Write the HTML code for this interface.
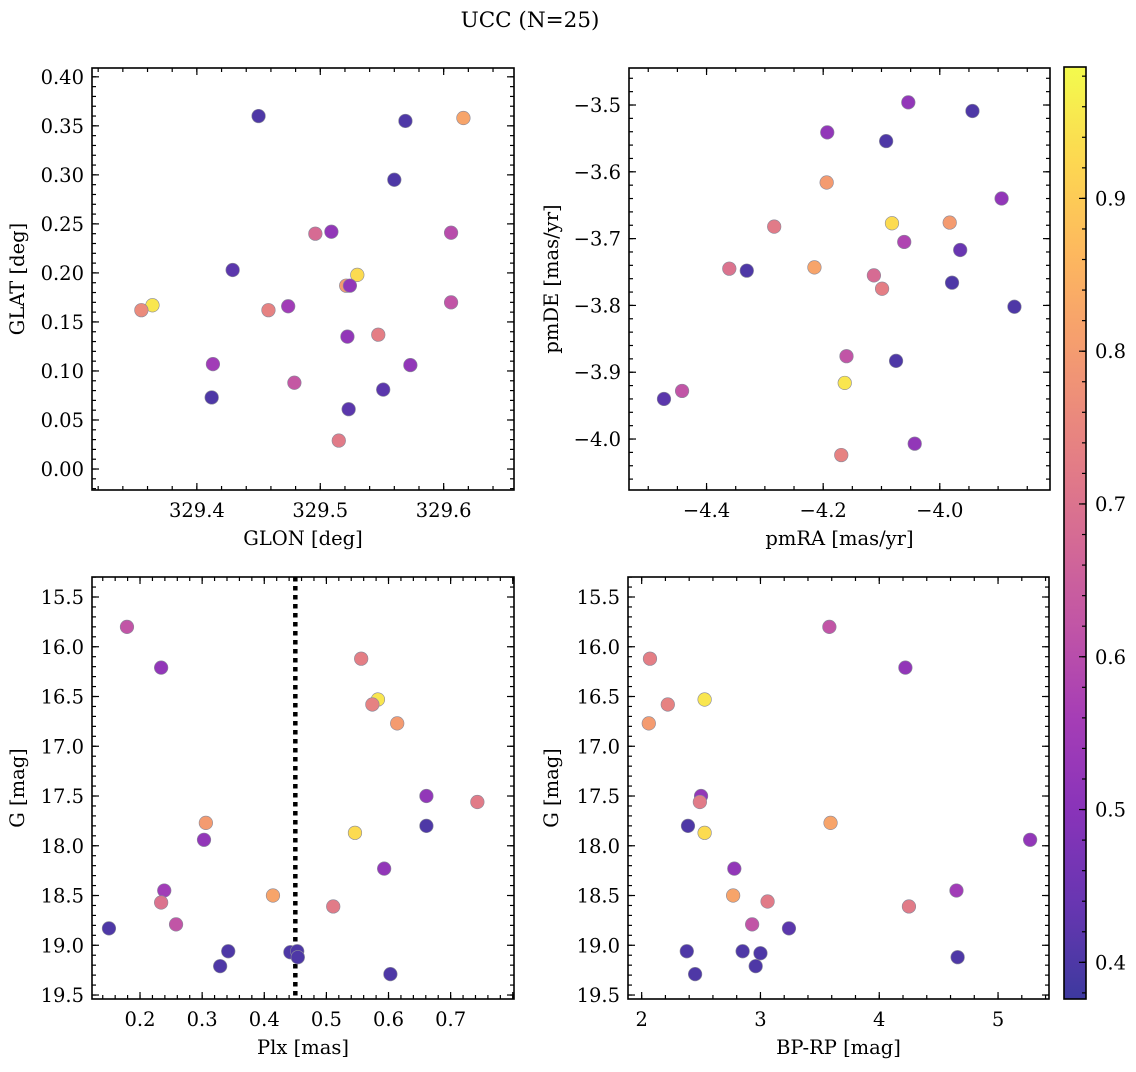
<!DOCTYPE html>
<html><head><meta charset="utf-8"><style>
html,body{margin:0;padding:0;background:#fff;}
svg text{font-family:"DejaVu Serif","Liberation Serif",serif;fill:#000;}
</style></head>
<body>
<svg id="fig" width="1136" height="1067" xmlns="http://www.w3.org/2000/svg">
<text x="530" y="27" font-size="21.5" text-anchor="middle">UCC (N=25)</text>
</svg>
<script>
// Panel 1: GLON / GLAT
const glon = [329.450,329.569,329.616,329.560,329.509,329.496,329.606,329.429,329.530,329.521,329.524,329.364,329.355,329.458,329.474,329.606,329.522,329.547,329.413,329.573,329.479,329.551,329.412,329.523,329.515];
const glat = [0.360,0.355,0.358,0.295,0.242,0.240,0.241,0.203,0.198,0.187,0.187,0.167,0.162,0.162,0.166,0.170,0.135,0.137,0.107,0.106,0.088,0.081,0.073,0.061,0.029];
const probA = [0.40,0.40,0.82,0.40,0.52,0.68,0.60,0.42,0.93,0.80,0.52,0.95,0.76,0.74,0.55,0.62,0.52,0.73,0.55,0.52,0.63,0.42,0.40,0.42,0.72];
// Panel 2: pmRA / pmDE
const pmra = [-4.054,-3.944,-4.193,-4.092,-4.194,-3.894,-4.082,-3.983,-4.284,-4.061,-3.965,-4.361,-4.331,-4.215,-4.113,-4.099,-3.979,-3.872,-4.160,-4.075,-4.163,-4.473,-4.442,-4.043,-4.169];
const pmde = [-3.496,-3.509,-3.541,-3.554,-3.616,-3.640,-3.677,-3.676,-3.682,-3.705,-3.717,-3.745,-3.748,-3.743,-3.755,-3.775,-3.766,-3.802,-3.876,-3.883,-3.916,-3.940,-3.928,-4.007,-4.024];
const probB = [0.52,0.40,0.52,0.40,0.80,0.52,0.93,0.80,0.72,0.58,0.44,0.70,0.40,0.82,0.68,0.73,0.40,0.40,0.62,0.40,0.95,0.42,0.62,0.52,0.74];
// Panel 3: Plx / G
const plx = [0.179,0.234,0.556,0.583,0.574,0.614,0.661,0.743,0.306,0.661,0.546,0.303,0.593,0.239,0.414,0.234,0.511,0.258,0.150,0.342,0.442,0.453,0.454,0.329,0.603];
const gmagC = [15.80,16.21,16.12,16.53,16.58,16.77,17.50,17.56,17.77,17.80,17.87,17.94,18.23,18.45,18.50,18.57,18.61,18.79,18.83,19.06,19.07,19.06,19.12,19.21,19.29];
const probC = [0.62,0.52,0.73,0.95,0.74,0.80,0.52,0.72,0.80,0.40,0.93,0.52,0.52,0.55,0.82,0.70,0.72,0.62,0.40,0.40,0.40,0.40,0.40,0.40,0.40];
// Panel 4: BP-RP / G
const bprp = [3.58,4.22,2.07,2.53,2.22,2.06,2.50,2.49,3.59,2.39,2.53,5.27,2.78,4.65,2.77,3.06,4.25,2.93,3.24,2.38,2.85,3.00,4.66,2.96,2.45];
const gmagD = [15.80,16.21,16.12,16.53,16.58,16.77,17.50,17.56,17.77,17.80,17.87,17.94,18.23,18.45,18.50,18.56,18.61,18.79,18.83,19.06,19.06,19.08,19.12,19.21,19.29];
const probD = [0.62,0.52,0.73,0.95,0.74,0.80,0.52,0.72,0.82,0.40,0.93,0.52,0.52,0.55,0.82,0.72,0.72,0.62,0.42,0.40,0.40,0.40,0.40,0.40,0.40];
const cbTicks = [0.4,0.5,0.6,0.7,0.8,0.9];
const plxCut = 0.45;

const NS = "http://www.w3.org/2000/svg";
const svg = document.getElementById('fig');
const FS = 19.5;
const VMIN = 0.376, VMAX = 0.986;
const plasma = ["#0d0887","#41049d","#6a00a8","#8f0da4","#b12a90","#cc4778","#e16462","#f2844b","#fca636","#fcce25","#f0f921"];
function hex(h){return [parseInt(h.substr(1,2),16),parseInt(h.substr(3,2),16),parseInt(h.substr(5,2),16)];}
function cmap(v){
  let t=(v-VMIN)/(VMAX-VMIN); t=Math.max(0,Math.min(1,t));
  const f=t*10, i=Math.min(9,Math.floor(f)), r=f-i;
  const a=hex(plasma[i]), b=hex(plasma[i+1]);
  const c=a.map((x,k)=>Math.round((x+(b[k]-x)*r)*0.8+255*0.2));
  return `rgb(${c[0]},${c[1]},${c[2]})`;
}
function mk(tag, attrs, parent){
  const e=document.createElementNS(NS,tag);
  for(const k in attrs) e.setAttribute(k,attrs[k]);
  (parent||svg).appendChild(e); return e;
}
function fmt(v,d){const s=v.toFixed(d);return s.replace('-','\u2212');}

function panel(o){
  const g=mk('g',{});
  
  
  const sx=v=>o.x0+(v-o.xmin)/(o.xmax-o.xmin)*(o.x1-o.x0);
  const sy=o.invert ? (v=>o.y0+(v-o.ymin)/(o.ymax-o.ymin)*(o.y1-o.y0)) : (v=>o.y1-(v-o.ymin)/(o.ymax-o.ymin)*(o.y1-o.y0));
  const eps=1e-9;
  const tg=mk('g',{stroke:'#000','stroke-width':1.2},g);
  function xt(step,len){
    for(let v=Math.ceil(o.xmin/step-eps)*step; v<=o.xmax+eps; v+=step){
      const x=sx(v);
      mk('line',{x1:x,x2:x,y1:o.y1,y2:o.y1-len},tg);
      mk('line',{x1:x,x2:x,y1:o.y0,y2:o.y0+len},tg);
    }
  }
  function yt(step,len){
    for(let v=Math.ceil(o.ymin/step-eps)*step; v<=o.ymax+eps; v+=step){
      const y=sy(v);
      mk('line',{x1:o.x0,x2:o.x0+len,y1:y,y2:y},tg);
      mk('line',{x1:o.x1,x2:o.x1-len,y1:y,y2:y},tg);
    }
  }
  xt(o.xminor,4); xt(o.xmajor,7); yt(o.yminor,4); yt(o.ymajor,7);
  o.xticks.forEach(v=>{
    const t=mk('text',{x:sx(v),y:o.y1+27,'font-size':FS,'text-anchor':'middle'},g);
    
    
    t.textContent=fmt(v,o.xd);
  });
  o.yticks.forEach(v=>{
    const t=mk('text',{x:o.x0-8,y:sy(v)+7,'font-size':FS,'text-anchor':'end'},g);
    
    
    t.textContent=fmt(v,o.yd);
  });
  const xl=mk('text',{x:(o.x0+o.x1)/2,y:o.y1+55,'font-size':FS,'text-anchor':'middle'},g);
  
  
  xl.textContent=o.xlabel;
  const ly=(o.y0+o.y1)/2;
  const yl=mk('text',{x:o.ylx,y:ly,'font-size':FS,'text-anchor':'middle',transform:`rotate(-90 ${o.ylx} ${ly})`},g);
  
  
  yl.textContent=o.ylabel;
  if(o.vline!==undefined){
    const l=mk('line',{x1:sx(o.vline),x2:sx(o.vline),y1:o.y0,y2:o.y1,stroke:'#000','stroke-width':4.5,'stroke-dasharray':'4.5,4.5'},g);
    
    
  }
  const pg=mk('g',{},g);
  o.xs.forEach((v,i)=>{
    const c=mk('circle',{cx:sx(v),cy:sy(o.ys[i]),r:6.8,fill:cmap(o.ps[i]),stroke:'#8a8a9a','stroke-width':0.6},pg);
    
    
  });
  mk('rect',{x:o.x0,y:o.y0,width:o.x1-o.x0,height:o.y1-o.y0,fill:'none',stroke:'#000','stroke-width':1.6},g);
}

panel({name:'glon-glat-panel',x0:92,x1:514,y0:68,y1:490,xmin:329.315,xmax:329.657,ymin:-0.0214,ymax:0.409,
  xmajor:0.1,xminor:0.02,ymajor:0.05,yminor:0.01,xticks:[329.4,329.5,329.6],xd:1,
  yticks:[0,0.05,0.1,0.15,0.2,0.25,0.3,0.35,0.4],yd:2,xlabel:'GLON [deg]',ylabel:'GLAT [deg]',ylx:24,
  xs:glon,ys:glat,ps:probA});
panel({name:'pm-panel',x0:629,x1:1050,y0:68,y1:490,xmin:-4.533,xmax:-3.811,ymin:-4.0763,ymax:-3.4446,
  xmajor:0.2,xminor:0.05,ymajor:0.1,yminor:0.02,xticks:[-4.4,-4.2,-4.0],xd:1,
  yticks:[-4.0,-3.9,-3.8,-3.7,-3.6,-3.5],yd:1,xlabel:'pmRA [mas/yr]',ylabel:'pmDE [mas/yr]',ylx:558,
  xs:pmra,ys:pmde,ps:probB});
panel({name:'plx-g-panel',x0:92,x1:514,y0:577,y1:999,xmin:0.1227,xmax:0.802,ymin:15.299,ymax:19.540,invert:true,
  xmajor:0.1,xminor:0.02,ymajor:0.5,yminor:0.1,xticks:[0.2,0.3,0.4,0.5,0.6,0.7],xd:1,
  yticks:[15.5,16,16.5,17,17.5,18,18.5,19,19.5],yd:1,xlabel:'Plx [mas]',ylabel:'G [mag]',ylx:24,
  xs:plx,ys:gmagC,ps:probC,vline:plxCut});
panel({name:'bprp-g-panel',x0:628,x1:1049,y0:577,y1:999,xmin:1.885,xmax:5.429,ymin:15.299,ymax:19.540,invert:true,
  xmajor:1,xminor:0.2,ymajor:0.5,yminor:0.1,xticks:[2,3,4,5],xd:0,
  yticks:[15.5,16,16.5,17,17.5,18,18.5,19,19.5],yd:1,xlabel:'BP-RP [mag]',ylabel:'G [mag]',ylx:558,
  xs:bprp,ys:gmagD,ps:probD});

// colorbar
(function(){
  const g=mk('g',{});
  
  
  const x0=1064,x1=1086,y0=67,y1=999;
  const cy=v=>y1-(v-VMIN)/(VMAX-VMIN)*(y1-y0);
  const defs=mk('defs',{},g);
  const lg=mk('linearGradient',{id:'cbg',x1:0,y1:1,x2:0,y2:0},defs);
  for(let i=0;i<=40;i++){
    const v=VMIN+(VMAX-VMIN)*i/40;
    mk('stop',{offset:(i/40),'stop-color':cmap(v)},lg);
  }
  mk('rect',{x:x0,y:y0,width:x1-x0,height:y1-y0,fill:'url(#cbg)'},g);
  for(let v=0.38;v<=VMAX;v+=0.02){
    mk('line',{x1:x1,x2:x1-4,y1:cy(v),y2:cy(v),stroke:'#000','stroke-width':1.2},g);
  }
  cbTicks.forEach(v=>{
    mk('line',{x1:x1,x2:x1-7,y1:cy(v),y2:cy(v),stroke:'#000','stroke-width':1.2},g);
    const t=mk('text',{x:x1+9,y:cy(v)+7,'font-size':FS},g);
    
    
    t.textContent=v.toFixed(1);
  });
  mk('rect',{x:x0,y:y0,width:x1-x0,height:y1-y0,fill:'none',stroke:'#000','stroke-width':1.6},g);
})();
</script>
</body></html>
